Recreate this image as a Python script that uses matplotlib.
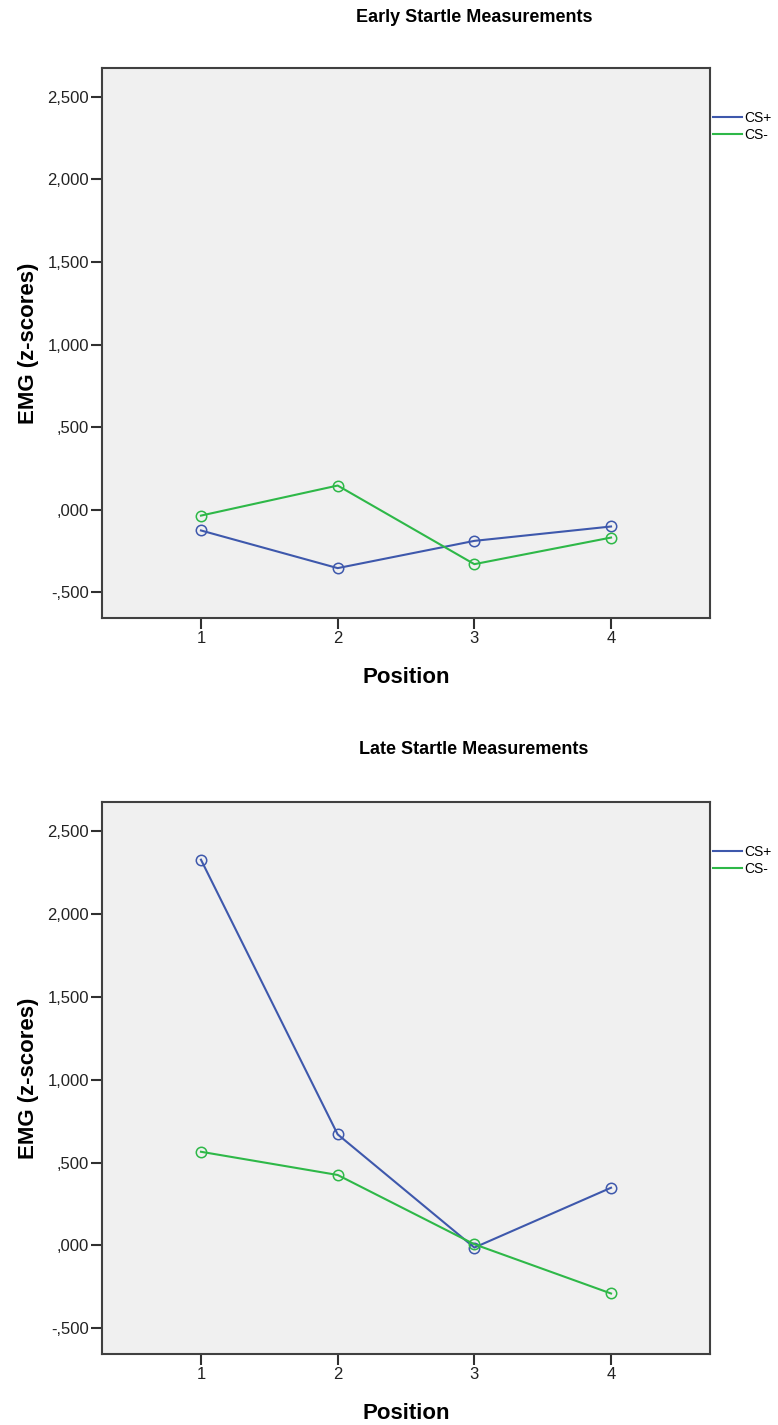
import matplotlib
matplotlib.use("Agg")
import matplotlib.pyplot as plt
from matplotlib.lines import Line2D

plt.rcParams['font.family'] = ['Liberation Sans', 'DejaVu Sans']

positions = [1, 2, 3, 4]
early_cs_plus = [-0.125, -0.353, -0.188, -0.101]
early_cs_minus = [-0.035, 0.147, -0.329, -0.168]
late_cs_plus = [2.327, 0.670, -0.013, 0.348]
late_cs_minus = [0.565, 0.425, 0.007, -0.290]

y_ticks = [-0.5, 0.0, 0.5, 1.0, 1.5, 2.0, 2.5]
y_tick_labels = ["-,500", ",000", ",500", "1,000", "1,500", "2,000", "2,500"]
x_tick_labels = ["1", "2", "3", "4"]
titles = ["Early Startle Measurements", "Late Startle Measurements"]
series_names = ["CS+", "CS-"]

c_plus = "#3E58AC"
c_minus = "#2EB848"

W, H = 778, 1425
fig = plt.figure(figsize=(W / 100, H / 100), dpi=100)

def px_axes(left, top, right, bottom):
    return fig.add_axes([left / W, 1 - bottom / H, (right - left) / W, (bottom - top) / H])

axes_boxes = [(102, 68, 710, 618), (102, 802, 710, 1354)]
title_y = [17, 750]
data = [(early_cs_plus, early_cs_minus), (late_cs_plus, late_cs_minus)]

for i in range(2):
    l, t, r, b = axes_boxes[i]
    ax = px_axes(l, t, r, b)
    ax.set_facecolor("#f0f0f0")
    plus, minus = data[i]
    ax.plot(positions, plus, color=c_plus, lw=1.5, marker='o', ms=7.5,
            mfc='none', mec=c_plus, mew=1.1)
    ax.plot(positions, minus, color=c_minus, lw=1.5, marker='o', ms=7.5,
            mfc='none', mec=c_minus, mew=1.1)
    ax.set_xlim(0.276, 4.724)
    ax.set_ylim(-0.655, 2.675)
    ax.set_xticks(positions)
    ax.set_xticklabels(x_tick_labels)
    ax.set_yticks(y_ticks)
    ax.set_yticklabels(y_tick_labels)
    ax.tick_params(axis='both', direction='out', length=8, width=1.5,
                   color="#303030", labelsize=12, labelcolor="#222222", pad=1.5)
    for s in ax.spines.values():
        s.set_color("#404040")
        s.set_linewidth(1.5)
    ax.set_xlabel("Position", fontsize=16, fontweight='bold', labelpad=15)
    ax.set_ylabel("EMG (z-scores)", fontsize=16, fontweight='bold', labelpad=6)
    handles = [Line2D([], [], color=c_plus, lw=1.5),
               Line2D([], [], color=c_minus, lw=1.5)]
    ax.legend(handles, series_names, loc='upper left', bbox_to_anchor=(1.005, 0.922),
              frameon=False, fontsize=10, handlelength=2.1, handletextpad=0.15,
              borderaxespad=0.0, borderpad=0.0, labelspacing=0.2)
    fig.text(474 / W, 1 - title_y[i] / H, titles[i], ha='center', va='center',
             fontsize=13, fontweight='bold')

fig.savefig("out.png", dpi=100, facecolor='white')
